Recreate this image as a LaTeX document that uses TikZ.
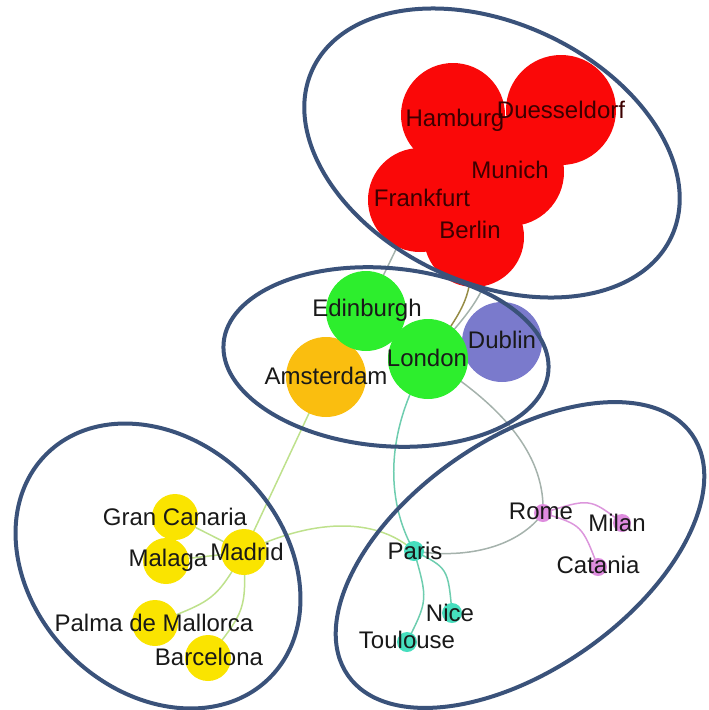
\documentclass[tikz,border=0pt]{standalone}
\usepackage{fontspec}
\setmainfont{Liberation Sans}
\usetikzlibrary{backgrounds}
\definecolor{cred}{RGB}{250,8,8}
\definecolor{cgreen}{RGB}{45,238,45}
\definecolor{cblue}{RGB}{122,122,204}
\definecolor{corange}{RGB}{250,190,15}
\definecolor{cyellow}{RGB}{250,228,0}
\definecolor{cteal}{RGB}{70,222,190}
\definecolor{cpink}{RGB}{222,140,222}
\definecolor{grpc}{RGB}{58,82,122}
\definecolor{txt}{RGB}{25,25,25}
\definecolor{txtred}{RGB}{60,0,0}
\definecolor{elgreen}{RGB}{190,225,140}
\definecolor{elteal}{RGB}{110,205,175}
\definecolor{elgray}{RGB}{165,178,172}
\definecolor{elolive}{RGB}{150,140,70}
\definecolor{elpink}{RGB}{220,150,220}
\begin{document}
\begin{tikzpicture}[x=1pt,y=-1pt,
  city/.style={circle,inner sep=0pt,minimum size=#1},
  lbl/.style={font=\fontsize{24}{28}\selectfont,text=txt,inner sep=0pt},
  grp/.style={draw=grpc,line width=4pt},
  edge/.style={line width=1.5pt}]
\useasboundingbox (0,0) rectangle (709,710);
% red cluster
\node[city=110,fill=cred] (duesseldorf) at (561,110) {};
\node[city=104,fill=cred] (hamburg) at (453,115) {};
\node[city=108,fill=cred] (munich) at (510,172) {};
\node[city=104,fill=cred] (frankfurt) at (420,200) {};
\node[city=100,fill=cred] (berlin) at (474,237) {};
% middle cluster
\node[city=80,fill=corange] (amsterdam) at (326,377) {};
\node[city=80,fill=cblue] (dublin) at (502,342) {};
\node[city=80,fill=cgreen] (edinburgh) at (366,311) {};
\node[city=80,fill=cgreen] (london) at (428,359) {};
% spain
\node[city=46,fill=cyellow] (grancanaria) at (175,517) {};
\node[city=46,fill=cyellow] (malaga) at (166,561) {};
\node[city=46,fill=cyellow] (madrid) at (244,552) {};
\node[city=46,fill=cyellow] (palma) at (155,623) {};
\node[city=46,fill=cyellow] (barcelona) at (208,658) {};
% france / italy
\node[city=20,fill=cteal] (paris) at (414,551) {};
\node[city=20,fill=cteal] (nice) at (452,613) {};
\node[city=20,fill=cteal] (toulouse) at (407,642) {};
\node[city=18,fill=cpink] (rome) at (543,513) {};
\node[city=18,fill=cpink] (milan) at (622,523) {};
\node[city=18,fill=cpink] (catania) at (598,567) {};
% edges
\begin{scope}[on background layer]
\draw[edge,elgray] (frankfurt.center) -- (edinburgh.center);
\draw[edge,elolive] (berlin.center) .. controls (470,300) .. (london.center);
\draw[edge,elgray] (munich.center) .. controls (490,290) .. (london.center);
\draw[edge,elgreen] (amsterdam.center) -- (madrid.center);
\draw[edge,elgreen] (madrid.center) .. controls (320,515) and (380,520) .. (paris.center);
\draw[edge,elteal] (london.center) .. controls (385,430) and (385,500) .. (paris.center);
\draw[edge,elgray] (london.center) .. controls (510,410) and (545,460) .. (rome.center);
\draw[edge,elgray] (rome.center) .. controls (520,545) and (470,560) .. (paris.center);
\draw[edge,elpink] (rome.center) .. controls (590,498) .. (milan.center);
\draw[edge,elpink] (rome.center) .. controls (582,525) .. (catania.center);
\draw[edge,elteal] (paris.center) .. controls (448,568) .. (nice.center);
\draw[edge,elteal] (paris.center) .. controls (428,600) .. (toulouse.center);
\draw[edge,elgreen] (madrid.center) -- (malaga.center);
\draw[edge,elgreen] (madrid.center) -- (grancanaria.center);
\draw[edge,elgreen] (madrid.center) .. controls (215,600) .. (palma.center);
\draw[edge,elgreen] (madrid.center) .. controls (246,610) .. (barcelona.center);
\end{scope}
% group ellipses
\draw[grp,rotate around={-25:(492,153)}] (492,153) ellipse [x radius=198pt,y radius=130pt];
\draw[grp,rotate around={-5:(386,357)}] (386,357) ellipse [x radius=163pt,y radius=89pt];
\draw[grp,rotate around={-45:(158,566)}] (158,566) ellipse [x radius=158pt,y radius=125pt];
\draw[grp,rotate around={35:(520,555)}] (520,555) ellipse [x radius=210pt,y radius=115pt];
% labels
\node[lbl,text=txtred] (lhamburg) at (455,120) {Hamburg};
\node[lbl,text=txtred] (lduesseldorf) at (561,110) {Duesseldorf};
\node[lbl,text=txtred] (lmunich) at (510,170) {Munich};
\node[lbl,text=txtred] (lfrankfurt) at (422,198) {Frankfurt};
\node[lbl,text=txtred] (lberlin) at (470,230) {Berlin};
\node[lbl] (ledinburgh) at (367,310) {Edinburgh};
\node[lbl] (llondon) at (427,358) {London};
\node[lbl] (ldublin) at (502,340) {Dublin};
\node[lbl] (lamsterdam) at (326,376) {Amsterdam};
\node[lbl] (lgrancanaria) at (175,517) {Gran Canaria};
\node[lbl] (lmalaga) at (168,560) {Malaga};
\node[lbl] (lmadrid) at (247,552) {Madrid};
\node[lbl] (lpalma) at (154,623) {Palma de Mallorca};
\node[lbl] (lbarcelona) at (209,657) {Barcelona};
\node[lbl] (lparis) at (415,551) {Paris};
\node[lbl] (lnice) at (450,613) {Nice};
\node[lbl] (ltoulouse) at (407,640) {Toulouse};
\node[lbl] (lrome) at (541,511) {Rome};
\node[lbl] (lmilan) at (617,523) {Milan};
\node[lbl] (lcatania) at (598,565) {Catania};
\end{tikzpicture}
\end{document}
